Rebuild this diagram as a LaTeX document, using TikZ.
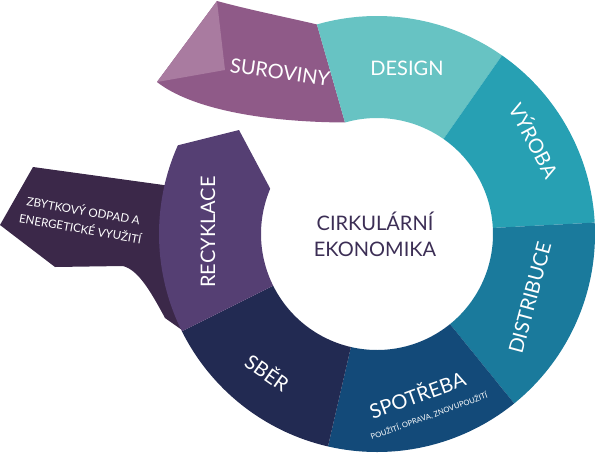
\documentclass[tikz,border=0pt]{standalone}
\usepackage{fontspec}
\setmainfont{Lato}
\usetikzlibrary{calc}
\definecolor{cSur}{HTML}{8F5A88}
\definecolor{cSurL}{HTML}{A97BA0}
\definecolor{cDes}{HTML}{67C3C3}
\definecolor{cVyr}{HTML}{27A0B3}
\definecolor{cDis}{HTML}{1A7A9C}
\definecolor{cSpo}{HTML}{134A79}
\definecolor{cSbe}{HTML}{222A52}
\definecolor{cRec}{HTML}{553F73}
\definecolor{cZby}{HTML}{3B2849}
\definecolor{cTxt}{HTML}{3C2E55}
\begin{document}
\begin{tikzpicture}[x=0.5pt,y=-0.5pt,
  lbl/.style={text=white,font=\fontsize{10}{12}\selectfont,inner sep=0pt},
  sm/.style={text=white,font=\fontsize{3.8}{5}\selectfont,inner sep=0pt}]
\useasboundingbox (0,0) rectangle (600,461);
\coordinate (c) at (377,234);
\def\R{218}\def\r{116}
\newcommand{\sector}[3]{\fill[#3] ($(c)+(#1:\R)$) arc (#1:#2:\R) -- ($(c)+(#2:\r)$) arc (#2:#1:\r) -- cycle;}
% residual waste
\fill[cZby] (33,167) -- (178,187) -- (182,330) -- (165,318) .. controls (150,290) and (138,270) .. (123,266) -- (55,267) -- (0,225) -- cycle;
% raw materials
\fill[cSur] ($(c)+(-106:\R)$) .. controls (290,18) and (250,10) .. (217,1) -- (157,82) .. controls (190,108) and (260,122) .. ($(c)+(-106:\r)$) -- cycle;
\fill[cSurL] (217,1) -- (225,70) -- (157,82) -- cycle;
\sector{-106}{-55}{cDes}
\sector{-55}{-3}{cVyr}
\sector{-3}{51}{cDis}
\sector{51}{103}{cSpo}
\sector{103}{153.5}{cSbe}
\fill[cRec] ($(c)+(153.5:\R)$) arc (153.5:204:\R) -- (239,130) -- ($(c)+(203:\r)$) arc (203:153.5:\r) -- cycle;
% labels
\node[lbl,rotate=-8] (sur) at (280,72) {SUROVINY};
\node[lbl] (des) at (407,68) {DESIGN};
\node[lbl,rotate=-62] (vyr) at (535,140) {VÝROBA};
\node[lbl,rotate=75] (dis) at (530,298) {DISTRIBUCE};
\node[lbl,rotate=20] (spo) at (417,394) {SPOTŘEBA};
\node[sm,rotate=20] (spo2) at (429,416) {POUŽITÍ, OPRAVA, ZNOVUPOUŽITÍ};
\node[lbl,rotate=-35] (sbe) at (268,372) {SBĚR};
\node[sm,font=\fontsize{5.8}{9}\selectfont,rotate=-10,align=center] (zby) at (82,219) {ZBYTKOVÝ ODPAD A\\ENERGETICKÉ VYUŽITÍ};
\node[lbl,rotate=90] (rec) at (208,232) {RECYKLACE};
\node[text=cTxt,font=\fontsize{10}{13}\selectfont,align=center,inner sep=0pt] (ce) at (375,234) {CIRKULÁRNÍ\\EKONOMIKA};
\end{tikzpicture}
\end{document}
